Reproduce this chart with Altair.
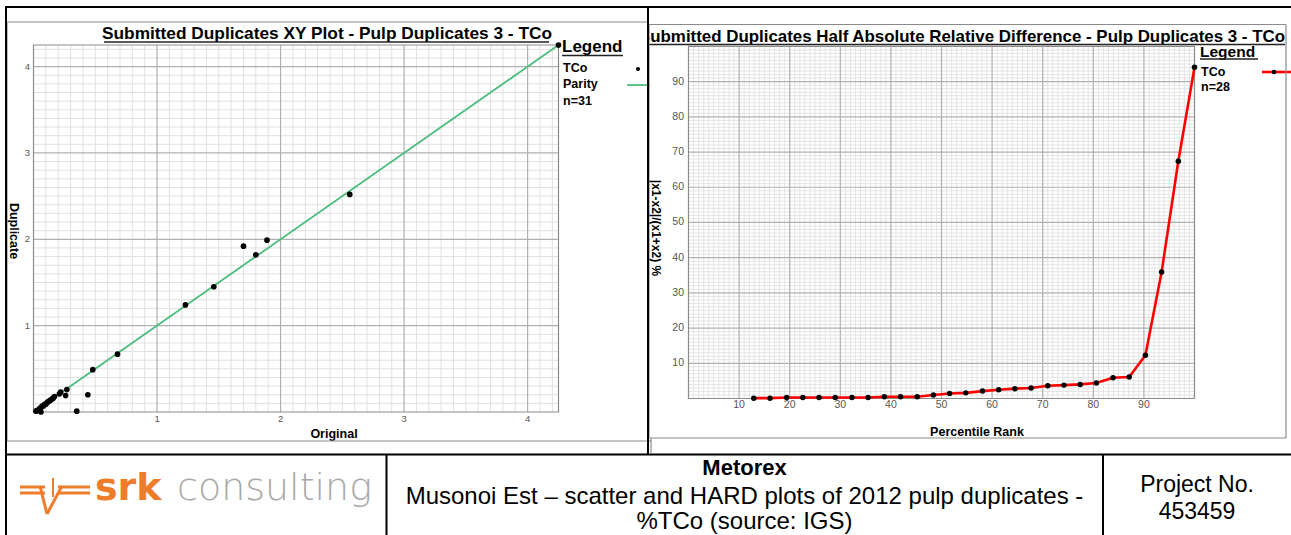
import altair as alt
import pandas as pd
import numpy as np

W, H = 1291, 535
FONT = "Liberation Sans"

# ---------------- data: XY plot (left) ----------------
xy_original = [4.25, 2.56, 1.89, 1.70, 1.80, 1.46, 1.23, 0.68, 0.48, 0.44, 0.35,
               0.27, 0.26, 0.22, 0.21, 0.17, 0.16, 0.15, 0.14, 0.13, 0.12, 0.11,
               0.10, 0.09, 0.08, 0.07, 0.06, 0.05, 0.03, 0.02, 0.06]
xy_duplicate = [4.25, 2.52, 1.99, 1.92, 1.82, 1.45, 1.24, 0.67, 0.49, 0.20, 0.01,
                0.26, 0.19, 0.23, 0.21, 0.18, 0.16, 0.15, 0.14, 0.13, 0.12, 0.11,
                0.09, 0.09, 0.07, 0.07, 0.05, 0.04, 0.02, 0.01, 0.00]
parity = [0.0, 4.25]
xy_ticks = [1, 2, 3, 4]
xy_max = 4.25

# ---------------- data: HARD plot (right) ----------------
hard_rank = [12.9, 16.1, 19.4, 22.6, 25.8, 29.0, 32.3, 35.5, 38.7, 41.9, 45.2, 48.4,
             51.6, 54.8, 58.1, 61.3, 64.5, 67.7, 71.0, 74.2, 77.4, 80.6, 83.9, 87.1,
             90.3, 93.5, 96.8, 100.0]
hard_value = [0.1, 0.1, 0.3, 0.3, 0.3, 0.3, 0.3, 0.3, 0.5, 0.5, 0.5, 1.0,
              1.4, 1.6, 2.1, 2.5, 2.8, 3.0, 3.6, 3.8, 4.0, 4.4, 5.9, 6.1,
              12.3, 35.9, 67.4, 94.1]
hard_ticks = [10, 20, 30, 40, 50, 60, 70, 80, 90]
hard_max = 100

# ---------------- scales (placed on one canvas) ----------------
LX = alt.Scale(domain=[0, xy_max], range=[33.5, 558.5], nice=False, zero=False)
LY = alt.Scale(domain=[0, xy_max], range=[412, 45], nice=False, zero=False)
RX = alt.Scale(domain=[0, hard_max], range=[688.5, 1194.5], nice=False, zero=False)
RY = alt.Scale(domain=[0, hard_max], range=[398.5, 46.4], nice=False, zero=False)

layers = []


def vgrid(vals, xs, ys, lo, hi, color, width):
    df = pd.DataFrame({"v": vals, "lo": lo, "hi": hi})
    return alt.Chart(df).mark_rule(color=color, strokeWidth=width).encode(
        x=alt.X("v:Q", scale=xs, axis=None),
        y=alt.Y("lo:Q", scale=ys, axis=None),
        y2="hi:Q")


def hgrid(vals, xs, ys, lo, hi, color, width):
    df = pd.DataFrame({"v": vals, "lo": lo, "hi": hi})
    return alt.Chart(df).mark_rule(color=color, strokeWidth=width).encode(
        y=alt.Y("v:Q", scale=ys, axis=None),
        x=alt.X("lo:Q", scale=xs, axis=None),
        x2="hi:Q")


def frame(xs, ys, xmax, ymax, color):
    df = pd.DataFrame({"x0": [0], "x1": [xmax], "y0": [0], "y1": [ymax]})
    return alt.Chart(df).mark_rect(filled=False, stroke=color, strokeWidth=1.2).encode(
        x=alt.X("x0:Q", scale=xs, axis=None), x2="x1:Q",
        y=alt.Y("y0:Q", scale=ys, axis=None), y2="y1:Q")


DUMMY = pd.DataFrame({"d": [0]})


def txt(s, x, y, size, bold=False, align="center", color="black", angle=0,
        font=FONT, baseline="middle", weight=None):
    kw = dict(text=s, fontSize=size, font=font, align=align, baseline=baseline,
              color=color)
    if weight is not None:
        kw["fontWeight"] = weight
    elif bold:
        kw["fontWeight"] = "bold"
    if angle:
        kw["angle"] = angle
    return alt.Chart(DUMMY).mark_text(**kw).encode(x=alt.value(x), y=alt.value(y))


def line(x1, y1, x2, y2, color="black", width=1.0):
    return alt.Chart(DUMMY).mark_rule(color=color, strokeWidth=width).encode(
        x=alt.value(x1), y=alt.value(y1), x2=alt.value(x2), y2=alt.value(y2))


def box(x1, y1, x2, y2, fill="white"):
    return alt.Chart(DUMMY).mark_rect(color=fill).encode(
        x=alt.value(x1), y=alt.value(y1), x2=alt.value(x2), y2=alt.value(y2))


# ---------------- left panel ----------------
l_minor = [v for v in np.round(np.arange(0.1, xy_max, 0.1), 2) if abs(v - round(v)) > 1e-6]
layers.append(vgrid(l_minor, LX, LY, 0, xy_max, "#e0e0e0", 1))
layers.append(hgrid(l_minor, LX, LY, 0, xy_max, "#e0e0e0", 1))
layers.append(vgrid(xy_ticks, LX, LY, 0, xy_max, "#b0b0b0", 1.2))
layers.append(hgrid(xy_ticks, LX, LY, 0, xy_max, "#b0b0b0", 1.2))
layers.append(frame(LX, LY, xy_max, xy_max, "#8c8c8c"))

par_df = pd.DataFrame({"o": parity, "d": parity})
layers.append(alt.Chart(par_df).mark_line(color="#4dbd7f", strokeWidth=1.8).encode(
    x=alt.X("o:Q", scale=LX, axis=None), y=alt.Y("d:Q", scale=LY, axis=None)))
xy_df = pd.DataFrame({"Original": xy_original, "Duplicate": xy_duplicate})
layers.append(alt.Chart(xy_df).mark_circle(color="black", size=32, opacity=1).encode(
    x=alt.X("Original:Q", scale=LX, axis=None),
    y=alt.Y("Duplicate:Q", scale=LY, axis=None)))

lt_df = pd.DataFrame({"v": xy_ticks, "lab": [str(t) for t in xy_ticks]})
layers.append(alt.Chart(lt_df).mark_text(fontSize=9.5, font=FONT, color="#555555",
                                         baseline="middle").encode(
    x=alt.X("v:Q", scale=LX, axis=None), y=alt.value(419), text="lab:N"))
layers.append(alt.Chart(lt_df).mark_text(fontSize=9.5, font=FONT, color="#555555",
                                         align="right", baseline="middle").encode(
    y=alt.Y("v:Q", scale=LY, axis=None), x=alt.value(30), text="lab:N"))

# ---------------- right panel ----------------
r_minor = [v for v in range(1, hard_max) if v % 10 != 0]
layers.append(vgrid(r_minor, RX, RY, 0, hard_max, "#e4e4e4", 1))
layers.append(hgrid(r_minor, RX, RY, 0, hard_max, "#e4e4e4", 1))
r_major = [v for v in range(10, hard_max, 10)]
layers.append(vgrid(r_major, RX, RY, 0, hard_max, "#b0b0b0", 1.2))
layers.append(hgrid(r_major, RX, RY, 0, hard_max, "#b0b0b0", 1.2))
layers.append(frame(RX, RY, hard_max, hard_max, "#8c8c8c"))

hd = pd.DataFrame({"rank": hard_rank, "hard": hard_value})
layers.append(alt.Chart(hd).mark_line(color="#ff0000", strokeWidth=2.6).encode(
    x=alt.X("rank:Q", scale=RX, axis=None), y=alt.Y("hard:Q", scale=RY, axis=None)))
layers.append(alt.Chart(hd).mark_circle(color="black", size=30, opacity=1).encode(
    x=alt.X("rank:Q", scale=RX, axis=None), y=alt.Y("hard:Q", scale=RY, axis=None)))

rt_df = pd.DataFrame({"v": hard_ticks, "lab": [str(t) for t in hard_ticks]})
layers.append(alt.Chart(rt_df).mark_text(fontSize=10.5, font=FONT, color="#555555",
                                         baseline="middle").encode(
    x=alt.X("v:Q", scale=RX, axis=None), y=alt.value(405), text="lab:N"))
layers.append(alt.Chart(rt_df).mark_text(fontSize=10.5, font=FONT, color="#555555",
                                         align="right", baseline="middle").encode(
    y=alt.Y("v:Q", scale=RY, axis=None), x=alt.value(684), text="lab:N"))

# ---------------- titles, labels, legends ----------------
layers.append(txt("Submitted Duplicates XY Plot - Pulp Duplicates 3 - TCo", 327, 34, 17.3, bold=True))
layers.append(line(104, 42, 549, 42, "#222222", 1.3))
layers.append(txt("Duplicate", 14, 231, 12.5, bold=True, angle=90))
layers.append(txt("Original", 334, 434, 12.5, bold=True))

layers.append(txt("Submitted Duplicates Half Absolute Relative Difference - Pulp Duplicates 3 - TCo",
                  1285, 37, 16.9, bold=True, align="right"))
layers.append(box(626, 26, 649.5, 45))

layers.append(txt("Legend", 562, 47, 17, bold=True, align="left"))
layers.append(line(562, 55.5, 623, 55.5, "#222222", 1.3))
layers.append(txt("TCo", 563, 68, 12.5, bold=True, align="left"))
layers.append(txt("Parity", 563, 84, 12.5, bold=True, align="left"))
layers.append(txt("n=31", 563, 101, 12.5, bold=True, align="left"))
layers.append(alt.Chart(DUMMY).mark_circle(color="black", size=16, opacity=1).encode(
    x=alt.value(638), y=alt.value(69)))
layers.append(line(627, 85, 650, 85, "#4dbd7f", 1.8))

layers.append(line(649, 44.5, 1285, 44.5, "#222222", 1.3))
layers.append(txt("|x1-x2|/(x1+x2) %", 656, 228, 12, bold=True, angle=90))
layers.append(txt("Percentile Rank", 977, 432, 12.5, bold=True))

layers.append(txt("Legend", 1200, 52, 15.5, bold=True, align="left"))
layers.append(line(1200, 59, 1258, 59, "#222222", 1.3))
layers.append(txt("TCo", 1201, 72, 12.5, bold=True, align="left"))
layers.append(txt("n=28", 1201, 87, 12.5, bold=True, align="left"))
layers.append(line(1262, 72, 1291, 72, "#ff0000", 2.6))
layers.append(alt.Chart(DUMMY).mark_circle(color="black", size=20, opacity=1).encode(
    x=alt.value(1274), y=alt.value(72)))

# ---------------- image frames & table lines ----------------
for (a, b, c, d) in [(7, 22, 648, 22), (7, 22, 7, 441), (7, 441, 651, 441), (651, 438, 651, 453)]:
    layers.append(line(a, b, c, d, "#8a8a8a", 1.2))
for (a, b, c, d) in [(649, 24.5, 1286, 24.5), (649, 24.5, 649, 438), (1286, 24.5, 1286, 438),
                     (649, 438, 1286, 438)]:
    layers.append(line(a, b, c, d, "#8a8a8a", 1.2))
for (a, b, c, d) in [(5, 7, 1291, 7), (6, 7, 6, 535), (648, 7, 648, 454),
                     (5, 454.5, 1291, 454.5), (386.5, 454, 386.5, 535), (1103, 454, 1103, 535)]:
    layers.append(line(a, b, c, d, "black", 2))

# ---------------- bottom row ----------------
layers.append(txt("Metorex", 744.5, 468, 22, bold=True))
layers.append(txt("Musonoi Est \u2013 scatter and HARD plots of 2012 pulp duplicates -", 744.5, 497, 24))
layers.append(txt("%TCo (source: IGS)", 744.5, 522, 24))
layers.append(txt("Project No.", 1197, 485, 23))
layers.append(txt("453459", 1197, 512, 23))

# logo
ORANGE = "#ee7d2b"
layers.append(txt("srk", 95, 500, 38, font="DejaVu Sans", weight="bold", align="left",
                  baseline="alphabetic", color=ORANGE))
layers.append(txt("consulting", 177, 500, 38, font="DejaVu Sans", weight=200, align="left",
                  baseline="alphabetic", color="#a9a9a9"))
for (a, b, c, d, w) in [(20, 487, 45, 487, 3), (20, 493, 45, 493, 3),
                        (58, 487, 90, 487, 3), (58, 493, 90, 493, 3),
                        (40, 486, 47, 514, 3), (62, 486, 47, 514, 3),
                        (53, 478, 53, 497, 2)]:
    layers.append(line(a, b, c, d, ORANGE, w))

chart = alt.layer(*layers).resolve_scale(x="independent", y="independent").properties(
    width=W, height=H, padding=0, autosize=alt.AutoSizeParams(type="none"),
    background="white"
).configure_view(strokeWidth=0)

chart.save("out.html", embed_options={"renderer": "svg", "actions": False})
